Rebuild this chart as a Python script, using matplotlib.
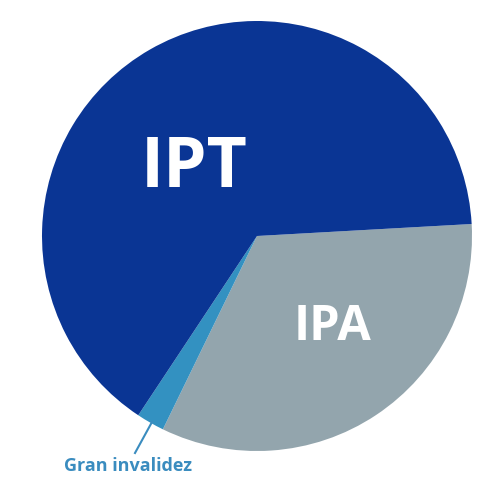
import matplotlib.pyplot as plt

# Datos del gráfico (porcentaje de cada tipo)
labels = ['IPA', 'Gran invalidez', 'IPT']
values = [33.1, 2.1, 64.8]
colors = ['#93a5ad', '#3391c1', '#0a3594']

fig = plt.figure(figsize=(5, 5), dpi=100)
ax = fig.add_axes([0, 0, 1, 1])

# Pastel centrado en (257, 264) en coordenadas de píxel
ax.pie(values, colors=colors, startangle=3.2, counterclock=False,
       center=(257, 264), radius=215, frame=True,
       wedgeprops=dict(linewidth=0))
ax.set_xlim(0, 500)
ax.set_ylim(0, 500)
ax.axis('off')

# Etiquetas
ax.text(194, 500 - 169, labels[2], color='white', fontsize=50,
        fontweight='bold', family='Open Sans', ha='center', va='center')
ax.text(332, 500 - 327, labels[0], color='white', fontsize=35,
        fontweight='bold', family='Open Sans', ha='center', va='center')
ax.text(128, 500 - 466, labels[1], color='#3a8cbf', fontsize=13,
        fontweight='bold', family='Open Sans', ha='center', va='center')

# Línea guía para la porción pequeña
ax.plot([152, 135], [500 - 422, 500 - 453], color='#3a8cbf', linewidth=1.5)

plt.savefig('out.png', dpi=100)
